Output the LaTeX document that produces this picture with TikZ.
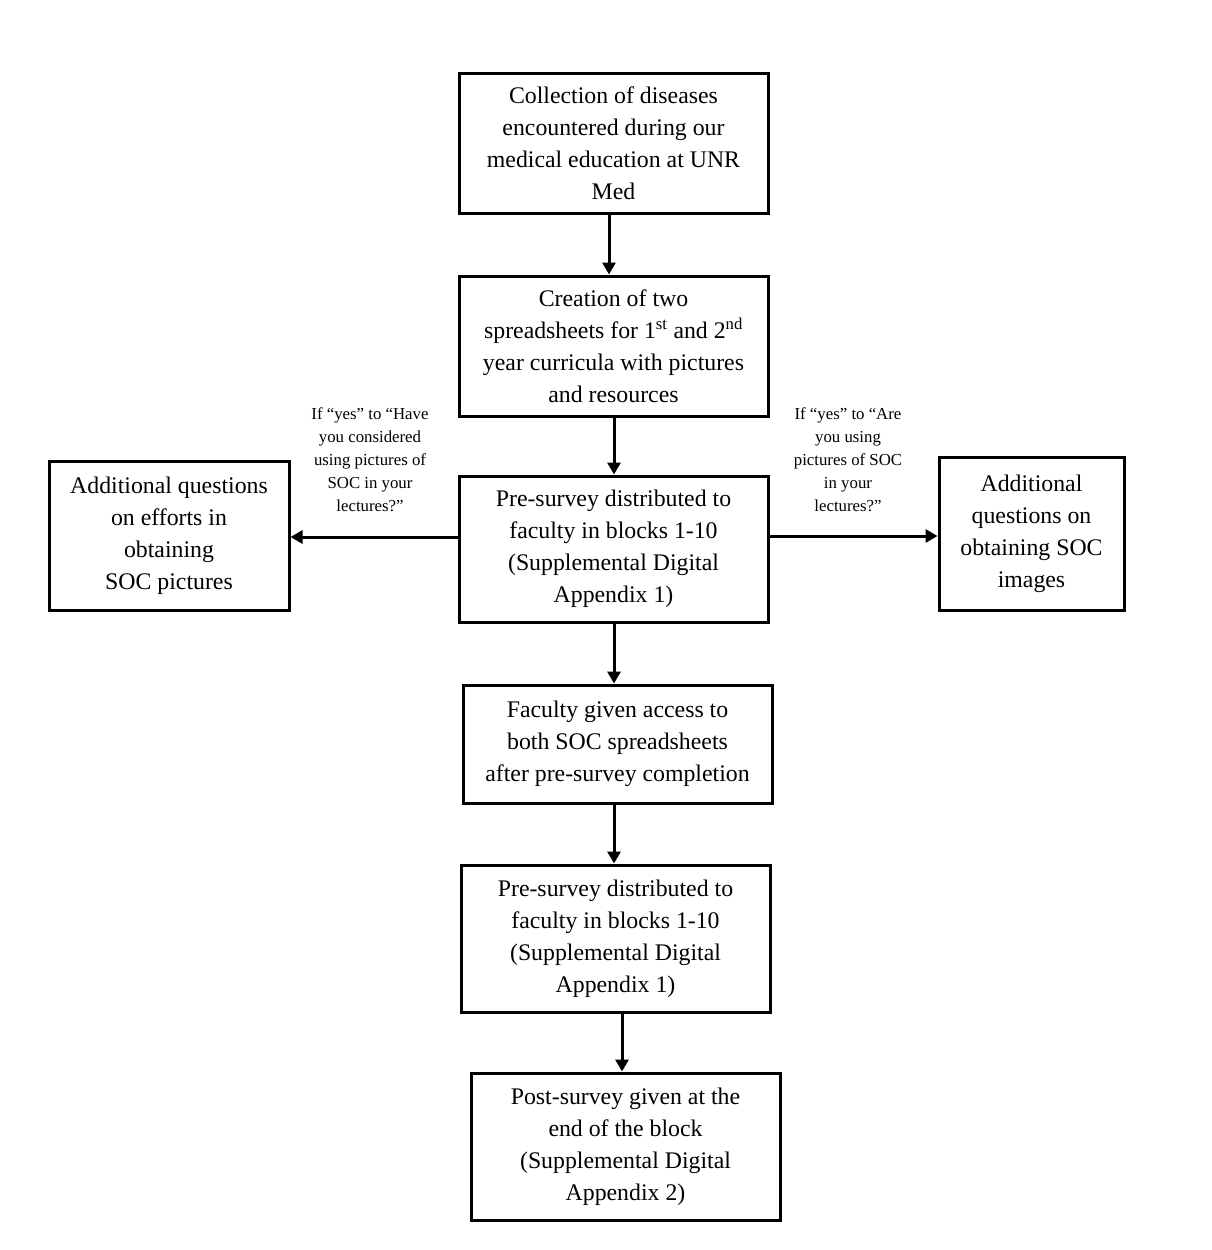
\documentclass[tikz,border=0pt]{standalone}
\usepackage{fontspec}
\setmainfont{Liberation Serif}
\usetikzlibrary{arrows.meta}
\begin{document}
\begin{tikzpicture}[x=1pt,y=-1pt,
  box/.style={draw=black,line width=3pt,align=center,inner sep=0pt,
    font=\fontsize{23.8}{32}\selectfont},
  lbl/.style={align=center,inner sep=0pt,font=\fontsize{16.8}{23}\selectfont},
  arr/.style={line width=3pt,-{Triangle[length=12pt,width=13pt]}}]
\useasboundingbox[fill=white] (0,0) rectangle (1212,1250);
\node[box,minimum width=309pt,minimum height=140pt] (b1) at (613.5,143)
  {Collection of diseases\\encountered during our\\medical education at UNR\\Med};
\node[box,minimum width=309pt,minimum height=140pt] (b2) at (613.5,346)
  {Creation of two\\spreadsheets for 1\textsuperscript{st} and 2\textsuperscript{nd}\\year curricula with pictures\\and resources};
\node[box,minimum width=309pt,minimum height=146pt] (b3) at (613.5,549)
  {Pre-survey distributed to\\faculty in blocks 1-10\\(Supplemental Digital\\Appendix 1)};
\node[box,minimum width=240pt,minimum height=149pt] (l) at (169,535.5)
  {Additional questions\\on efforts in\\obtaining\\SOC pictures};
\node[box,minimum width=185pt,minimum height=153pt] (r) at (1031.5,533.5)
  {Additional\\questions on\\obtaining SOC\\images};
\node[box,minimum width=309pt,minimum height=118pt] (b4) at (617.5,744)
  {Faculty given access to\\both SOC spreadsheets\\after pre-survey completion};
\node[box,minimum width=309pt,minimum height=147pt] (b5) at (615.5,938.5)
  {Pre-survey distributed to\\faculty in blocks 1-10\\(Supplemental Digital\\Appendix 1)};
\node[box,minimum width=309pt,minimum height=147pt] (b6) at (625.5,1146.5)
  {Post-survey given at the\\end of the block\\(Supplemental Digital\\Appendix 2)};
\node[lbl] (tl) at (370,460)
  {If “yes” to “Have\\you considered\\using pictures of\\SOC in your\\lectures?”};
\node[lbl] (tr) at (848,460)
  {If “yes” to “Are\\you using\\pictures of SOC\\in your\\lectures?”};
\draw[arr] ([xshift=-4.5pt]b1.south) -- ([xshift=-4.5pt]b1.south |- b2.north);
\draw[arr] ([xshift=0.5pt]b2.south) -- ([xshift=0.5pt]b2.south |- b3.north);
\draw[arr] ([xshift=0.5pt]b3.south) -- ([xshift=0.5pt]b3.south |- b4.north);
\draw[arr] ([xshift=-3.5pt]b4.south) -- ([xshift=-3.5pt]b4.south |- b5.north);
\draw[arr] ([xshift=6.5pt]b5.south) -- ([xshift=6.5pt]b5.south |- b6.north);
\draw[arr] ([yshift=12pt]b3.west) -- ([yshift=12pt]b3.west -| l.east);
\draw[arr] ([yshift=13pt]b3.east) -- ([yshift=13pt]b3.east -| r.west);
\end{tikzpicture}
\end{document}
